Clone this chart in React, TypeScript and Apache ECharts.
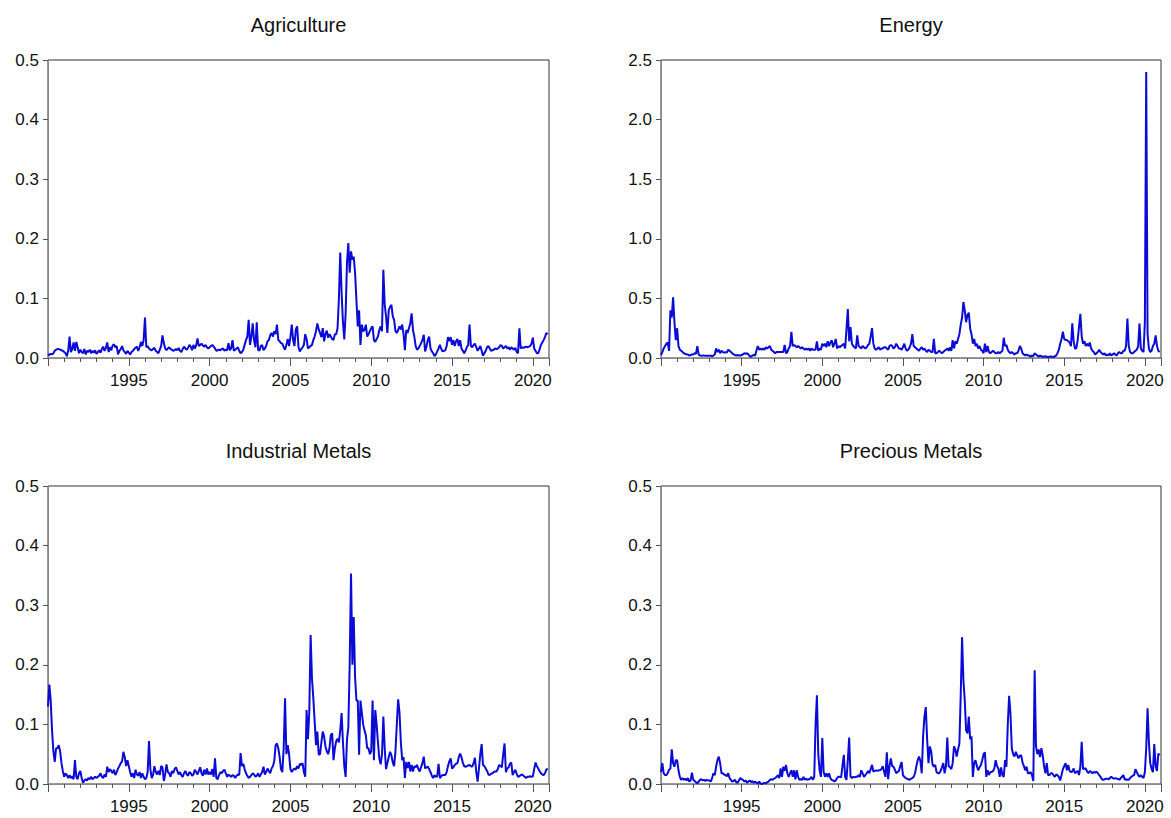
import React, { useEffect, useRef } from "react";
import * as echarts from "echarts";

const START_YEAR = 1990;
const END_YEAR = 2021;

const titles = ["Agriculture", "Energy", "Industrial Metals", "Precious Metals"];

// monthly observations starting 1990M1
const agriculture = [
  0.006, 0.005, 0.007, 0.006, 0.008, 0.012, 0.014, 0.015, 0.015, 0.014, 0.013, 0.012,
  0.010, 0.008, 0.003, 0.012, 0.036, 0.010, 0.015, 0.026, 0.012, 0.027, 0.018, 0.008,
  0.014, 0.010, 0.008, 0.015, 0.006, 0.012, 0.010, 0.014, 0.008, 0.012, 0.009, 0.013,
  0.007, 0.010, 0.013, 0.009, 0.015, 0.019, 0.012, 0.017, 0.026, 0.010, 0.018, 0.013,
  0.021, 0.023, 0.018, 0.020, 0.006, 0.012, 0.015, 0.020, 0.013, 0.010, 0.007, 0.012,
  0.009, 0.006, 0.010, 0.012, 0.015, 0.017, 0.019, 0.012, 0.018, 0.027, 0.020,
  0.030, 0.068, 0.018, 0.020, 0.016, 0.014, 0.013, 0.015, 0.017, 0.012, 0.010, 0.008,
  0.014, 0.020, 0.038, 0.025, 0.016, 0.013, 0.016, 0.018, 0.015, 0.014, 0.012, 0.013,
  0.015, 0.013, 0.017, 0.012, 0.010, 0.015, 0.019, 0.016, 0.014, 0.017, 0.022, 0.019,
  0.013, 0.022, 0.016, 0.021, 0.033, 0.020, 0.022, 0.024, 0.021, 0.019, 0.022, 0.018,
  0.016, 0.018, 0.020, 0.022, 0.019, 0.016, 0.012, 0.013, 0.014, 0.013, 0.015, 0.016,
  0.012, 0.014, 0.013, 0.025, 0.013, 0.016, 0.030, 0.012, 0.014, 0.016, 0.018, 0.012,
  0.008, 0.010, 0.014, 0.022, 0.030, 0.036, 0.064, 0.022, 0.035, 0.058, 0.030, 0.018,
  0.060, 0.014, 0.012, 0.020, 0.022, 0.013, 0.016, 0.020, 0.028, 0.030, 0.038, 0.042,
  0.036, 0.045, 0.040, 0.056, 0.030, 0.028, 0.025, 0.024, 0.018, 0.014, 0.022, 0.032,
  0.020, 0.035, 0.056, 0.030, 0.020, 0.048, 0.053, 0.018, 0.011, 0.015, 0.018,
  0.022, 0.040, 0.032, 0.016, 0.018, 0.020, 0.022, 0.030, 0.036, 0.045, 0.058, 0.048,
  0.042, 0.035, 0.050, 0.028, 0.040, 0.046, 0.034, 0.040, 0.036, 0.032, 0.030, 0.040,
  0.040, 0.050, 0.100, 0.177, 0.110, 0.060, 0.031, 0.075, 0.160, 0.193, 0.143, 0.179,
  0.165, 0.170, 0.143, 0.098, 0.053, 0.080, 0.022, 0.056, 0.045, 0.047, 0.056, 0.036,
  0.040, 0.045, 0.050, 0.053, 0.030, 0.027, 0.032, 0.036, 0.047, 0.053, 0.045, 0.148,
  0.090, 0.070, 0.042, 0.080, 0.086, 0.089, 0.070, 0.064, 0.045, 0.042, 0.047, 0.053,
  0.048, 0.056, 0.040, 0.013, 0.047, 0.042, 0.050, 0.058, 0.075, 0.047, 0.036, 0.020,
  0.014, 0.016, 0.020, 0.025, 0.030, 0.039, 0.011, 0.019, 0.030, 0.036, 0.016, 0.011,
  0.008, 0.003, 0.006, 0.011, 0.016, 0.022, 0.015, 0.011, 0.012, 0.013, 0.020, 0.035,
  0.028, 0.035, 0.022, 0.030, 0.020, 0.028, 0.032, 0.020, 0.030, 0.016, 0.012,
  0.008, 0.012, 0.018, 0.022, 0.056, 0.020, 0.018, 0.022, 0.024, 0.018, 0.012, 0.016,
  0.020, 0.012, 0.004, 0.008, 0.012, 0.018, 0.020, 0.016, 0.012, 0.013, 0.014, 0.016,
  0.015, 0.016, 0.018, 0.022, 0.020, 0.016, 0.018, 0.020, 0.016, 0.018, 0.014, 0.018,
  0.016, 0.014, 0.017, 0.010, 0.008, 0.050, 0.016, 0.018, 0.017, 0.018, 0.019, 0.018,
  0.019, 0.020, 0.024, 0.034, 0.016, 0.012, 0.008, 0.008, 0.014, 0.022, 0.026, 0.030,
  0.035, 0.042, 0.040,
];

const energy = [
  0.025, 0.05, 0.08, 0.10, 0.12, 0.13, 0.06, 0.40, 0.34, 0.51, 0.30, 0.15,
  0.25, 0.10, 0.07, 0.06, 0.05, 0.04, 0.035, 0.03, 0.03, 0.02, 0.025, 0.03,
  0.03, 0.04, 0.035, 0.10, 0.03, 0.02, 0.018, 0.02, 0.02, 0.018, 0.02, 0.018,
  0.018, 0.02, 0.015, 0.02, 0.03, 0.08, 0.05, 0.07, 0.04, 0.06, 0.05, 0.045,
  0.05, 0.045, 0.07, 0.06, 0.05, 0.04, 0.03, 0.025, 0.02, 0.025, 0.02,
  0.02, 0.025, 0.03, 0.04, 0.035, 0.04, 0.03, 0.015, 0.01, 0.02, 0.025, 0.02,
  0.06, 0.10, 0.07, 0.08, 0.07, 0.08, 0.07, 0.09, 0.08, 0.09, 0.10, 0.07,
  0.06, 0.05, 0.04, 0.05, 0.05, 0.05, 0.05, 0.05, 0.05, 0.11, 0.04, 0.05,
  0.08, 0.10, 0.22, 0.10, 0.11, 0.10, 0.09, 0.10, 0.09, 0.08, 0.09, 0.08,
  0.07, 0.08, 0.07, 0.08, 0.06, 0.08, 0.07, 0.07, 0.07, 0.14, 0.06, 0.08,
  0.07, 0.12, 0.10, 0.12, 0.09, 0.14, 0.10, 0.13, 0.15, 0.09, 0.12, 0.16,
  0.08, 0.10, 0.09, 0.10, 0.11, 0.12, 0.08, 0.24, 0.41, 0.14, 0.26, 0.12,
  0.10, 0.09, 0.08, 0.19, 0.10, 0.09, 0.08, 0.10, 0.09, 0.08, 0.09, 0.11,
  0.12, 0.18, 0.25, 0.12, 0.08, 0.07, 0.08, 0.09, 0.07, 0.08, 0.08, 0.09,
  0.09, 0.08, 0.07, 0.10, 0.11, 0.10, 0.08, 0.09, 0.12, 0.10, 0.08,
  0.08, 0.07, 0.09, 0.12, 0.08, 0.06, 0.07, 0.09, 0.12, 0.20, 0.10, 0.09,
  0.08, 0.07, 0.06, 0.08, 0.09, 0.07, 0.08, 0.06, 0.05, 0.07, 0.06, 0.05,
  0.05, 0.16, 0.04, 0.04, 0.05, 0.06, 0.05, 0.04, 0.05, 0.06, 0.07, 0.08,
  0.06, 0.09, 0.06, 0.15, 0.08, 0.14, 0.12, 0.16, 0.20, 0.28, 0.34, 0.47,
  0.40, 0.30, 0.36, 0.38, 0.25, 0.20, 0.12, 0.16, 0.10, 0.12, 0.08, 0.10,
  0.07, 0.06, 0.04, 0.12, 0.05, 0.10, 0.05, 0.04, 0.05, 0.06, 0.05, 0.04,
  0.04, 0.05, 0.04, 0.05, 0.06, 0.17, 0.10, 0.11, 0.07, 0.05, 0.04, 0.05,
  0.04, 0.03, 0.04, 0.04, 0.06, 0.10, 0.08, 0.04, 0.03, 0.02, 0.03, 0.02,
  0.02, 0.01, 0.02, 0.015, 0.04, 0.03, 0.02, 0.01, 0.02, 0.015, 0.01,
  0.01, 0.015, 0.01, 0.008, 0.01, 0.012, 0.01, 0.008, 0.015, 0.02, 0.04, 0.07,
  0.12, 0.16, 0.22, 0.16, 0.15, 0.15, 0.14, 0.13, 0.10, 0.29, 0.14, 0.08,
  0.08, 0.15, 0.26, 0.37, 0.18, 0.12, 0.14, 0.10, 0.12, 0.10, 0.13, 0.08,
  0.06, 0.05, 0.03, 0.04, 0.05, 0.07, 0.05, 0.04, 0.03, 0.04, 0.02, 0.03,
  0.02, 0.04, 0.02, 0.03, 0.04, 0.03, 0.02, 0.04, 0.05, 0.04, 0.04, 0.06,
  0.06, 0.10, 0.33, 0.10, 0.05, 0.04, 0.04, 0.05, 0.06, 0.07, 0.10, 0.29,
  0.08, 0.06, 0.05, 0.30, 2.40, 0.20, 0.08, 0.05, 0.06, 0.10, 0.12, 0.19,
  0.10, 0.06, 0.05,
];

const industrialMetals = [
  0.130, 0.167, 0.140, 0.090, 0.055, 0.037, 0.060, 0.060, 0.065, 0.055, 0.035, 0.022,
  0.012, 0.018, 0.015, 0.010, 0.015, 0.010, 0.013, 0.008, 0.040, 0.012, 0.008, 0.018,
  0.022, 0.010, 0.002, 0.006, 0.008, 0.006, 0.010, 0.008, 0.012, 0.008, 0.010, 0.012,
  0.010, 0.012, 0.014, 0.018, 0.012, 0.010, 0.016, 0.012, 0.029, 0.020, 0.025,
  0.022, 0.018, 0.024, 0.015, 0.020, 0.026, 0.030, 0.035, 0.038, 0.054, 0.045, 0.030,
  0.040, 0.030, 0.020, 0.012, 0.018, 0.010, 0.024, 0.016, 0.014, 0.020, 0.010, 0.018,
  0.012, 0.008, 0.010, 0.020, 0.072, 0.025, 0.010, 0.015, 0.030, 0.020, 0.016, 0.022,
  0.015, 0.030, 0.028, 0.005, 0.016, 0.033, 0.020, 0.018, 0.012, 0.022, 0.018, 0.025,
  0.028, 0.022, 0.016, 0.020, 0.015, 0.012, 0.018, 0.022, 0.016, 0.014, 0.020, 0.018,
  0.014, 0.016, 0.024, 0.020, 0.016, 0.022, 0.028, 0.018, 0.014, 0.024, 0.016, 0.026,
  0.016, 0.020, 0.016, 0.025, 0.012, 0.043, 0.010, 0.008, 0.015, 0.020, 0.018, 0.022,
  0.024, 0.018, 0.012, 0.016, 0.014, 0.012, 0.015, 0.014, 0.010, 0.014, 0.016, 0.015,
  0.052, 0.030, 0.034, 0.025, 0.018, 0.014, 0.010, 0.012, 0.015, 0.018, 0.016, 0.012,
  0.014, 0.018, 0.012, 0.016, 0.020, 0.029, 0.016, 0.020, 0.026, 0.022, 0.018,
  0.026, 0.030, 0.038, 0.065, 0.068, 0.060, 0.045, 0.025, 0.020, 0.060, 0.144, 0.050,
  0.065, 0.050, 0.025, 0.020, 0.024, 0.026, 0.024, 0.030, 0.026, 0.034, 0.032, 0.035,
  0.020, 0.012, 0.124, 0.075, 0.120, 0.250, 0.177, 0.144, 0.105, 0.065, 0.088, 0.049,
  0.050, 0.070, 0.088, 0.080, 0.063, 0.055, 0.050, 0.060, 0.082, 0.085, 0.040, 0.060,
  0.072, 0.076, 0.070, 0.090, 0.119, 0.070, 0.030, 0.012, 0.075, 0.095, 0.200, 0.353,
  0.200, 0.280, 0.180, 0.140, 0.140, 0.049, 0.140, 0.120, 0.100, 0.090, 0.082, 0.060,
  0.060, 0.050, 0.055, 0.140, 0.040, 0.124, 0.100, 0.070, 0.043, 0.033, 0.050, 0.113,
  0.060, 0.025, 0.035, 0.045, 0.054, 0.048, 0.036, 0.030, 0.055, 0.100, 0.142, 0.120,
  0.070, 0.040, 0.045, 0.010, 0.037, 0.027, 0.037, 0.021, 0.032, 0.021, 0.030, 0.028,
  0.032, 0.025, 0.021, 0.028, 0.035, 0.046, 0.026, 0.028, 0.029, 0.025, 0.020, 0.014,
  0.010, 0.015, 0.012, 0.013, 0.034, 0.010, 0.013, 0.015, 0.015, 0.015, 0.020,
  0.030, 0.038, 0.043, 0.026, 0.028, 0.032, 0.034, 0.035, 0.045, 0.051, 0.045, 0.036,
  0.030, 0.029, 0.030, 0.031, 0.032, 0.030, 0.029, 0.035, 0.044, 0.020, 0.004, 0.026,
  0.050, 0.067, 0.032, 0.030, 0.026, 0.022, 0.016, 0.015, 0.017, 0.018, 0.020, 0.021,
  0.021, 0.025, 0.032, 0.030, 0.028, 0.050, 0.068, 0.020, 0.026, 0.028, 0.034, 0.036,
  0.015, 0.020, 0.024, 0.017, 0.012, 0.013, 0.015, 0.016, 0.014, 0.012, 0.010, 0.012,
  0.012, 0.013, 0.012, 0.013, 0.025, 0.036, 0.030, 0.026, 0.022, 0.018, 0.016, 0.015,
  0.018, 0.024, 0.026,
];

const preciousMetals = [
  0.020, 0.035, 0.018, 0.015, 0.015, 0.018, 0.024, 0.026, 0.058, 0.035, 0.029, 0.040,
  0.040, 0.023, 0.012, 0.007, 0.010, 0.007, 0.009, 0.006, 0.010, 0.004, 0.006, 0.019,
  0.007, 0.005, 0.003, 0.001, 0.004, 0.007, 0.008, 0.006, 0.007, 0.005, 0.007, 0.006,
  0.006, 0.004, 0.010, 0.018, 0.015, 0.029, 0.040, 0.046, 0.035, 0.018, 0.018, 0.016,
  0.015, 0.013, 0.018, 0.010, 0.007, 0.004, 0.005, 0.007, 0.003, 0.002, 0.006, 0.010,
  0.008, 0.007, 0.004, 0.006, 0.002, 0.004, 0.006, 0.003, 0.005, 0.002, 0.004,
  0.002, 0.001, 0.004, 0.001, 0.000, 0.001, 0.002, 0.001, 0.003, 0.004, 0.007, 0.008,
  0.007, 0.009, 0.010, 0.012, 0.015, 0.010, 0.026, 0.012, 0.029, 0.022, 0.032, 0.018,
  0.012, 0.018, 0.023, 0.012, 0.023, 0.008, 0.023, 0.012, 0.007, 0.008, 0.007, 0.012,
  0.007, 0.009, 0.007, 0.008, 0.009, 0.012, 0.007, 0.012, 0.100, 0.149, 0.050, 0.023,
  0.012, 0.077, 0.020, 0.012, 0.018, 0.012, 0.018, 0.010, 0.007, 0.006, 0.004, 0.006,
  0.010, 0.012, 0.012, 0.011, 0.030, 0.049, 0.012, 0.007, 0.040, 0.078, 0.012, 0.010,
  0.012, 0.011, 0.012, 0.012, 0.015, 0.012, 0.023, 0.018, 0.012, 0.015, 0.018, 0.022,
  0.018, 0.025, 0.032, 0.021, 0.022, 0.023, 0.022, 0.023, 0.023, 0.025, 0.030, 0.020,
  0.012, 0.053, 0.008, 0.030, 0.043, 0.030, 0.029, 0.024, 0.018, 0.020, 0.022, 0.030,
  0.037, 0.015, 0.012, 0.010, 0.009, 0.008, 0.007, 0.009, 0.010, 0.012, 0.018,
  0.030, 0.040, 0.046, 0.038, 0.018, 0.080, 0.113, 0.129, 0.075, 0.035, 0.063, 0.055,
  0.033, 0.029, 0.032, 0.020, 0.018, 0.018, 0.022, 0.028, 0.035, 0.018, 0.030, 0.078,
  0.030, 0.028, 0.025, 0.035, 0.063, 0.058, 0.046, 0.058, 0.068, 0.150, 0.246, 0.174,
  0.140, 0.090, 0.085, 0.113, 0.075, 0.080, 0.012, 0.035, 0.040, 0.030, 0.023, 0.028,
  0.032, 0.040, 0.050, 0.053, 0.012, 0.023, 0.015, 0.020, 0.020, 0.022, 0.026, 0.040,
  0.030, 0.026, 0.012, 0.028, 0.015, 0.012, 0.040, 0.029, 0.100, 0.148, 0.118, 0.060,
  0.050, 0.046, 0.054, 0.048, 0.043, 0.048, 0.048, 0.036, 0.030, 0.023, 0.029, 0.018,
  0.018, 0.020, 0.015, 0.005, 0.191, 0.063, 0.050, 0.058, 0.045, 0.060, 0.048, 0.030,
  0.018, 0.035, 0.015, 0.015, 0.018, 0.018, 0.015, 0.012, 0.016, 0.015, 0.012, 0.006,
  0.015, 0.025, 0.030, 0.035, 0.023, 0.032, 0.022, 0.020, 0.021, 0.026, 0.018, 0.020,
  0.022, 0.015, 0.029, 0.071, 0.025, 0.026, 0.026, 0.021, 0.018, 0.022, 0.020, 0.018,
  0.020, 0.019, 0.021, 0.018, 0.015, 0.012, 0.008, 0.007, 0.008, 0.009, 0.009,
  0.008, 0.010, 0.012, 0.010, 0.009, 0.010, 0.009, 0.009, 0.007, 0.010, 0.012, 0.015,
  0.007, 0.008, 0.007, 0.007, 0.010, 0.012, 0.014, 0.015, 0.025, 0.020, 0.015, 0.012,
  0.015, 0.012, 0.010, 0.020, 0.060, 0.127, 0.070, 0.035, 0.025, 0.020, 0.067, 0.030,
  0.022, 0.051, 0.048,
];

const seriesValues = [agriculture, energy, industrialMetals, preciousMetals];
const yMaxes = [0.5, 2.5, 0.5, 0.5];
const yIntervals = [0.1, 0.5, 0.1, 0.1];

const FONT = "'Liberation Sans', Arial, Helvetica, sans-serif";

const grids = [
  { left: 48, top: 60, width: 501, height: 298 },
  { left: 661, top: 60, width: 500, height: 298 },
  { left: 48, top: 486, width: 501, height: 298 },
  { left: 661, top: 486, width: 500, height: 298 },
];

function toPoints(values: number[]) {
  return values.map((v, i) => [START_YEAR + i / 12, v]);
}

export default function App() {
  const ref = useRef<HTMLDivElement>(null);

  useEffect(() => {
    if (!ref.current) return;
    const chart = echarts.init(ref.current, undefined, { renderer: "svg" });

    const xAxes: any[] = [];
    const yAxes: any[] = [];
    const series: any[] = [];
    const titleOpts: any[] = [];

    grids.forEach((g, k) => {
      titleOpts.push({
        text: titles[k],
        left: g.left + g.width / 2 - 5,
        top: g.top - 50,
        textAlign: "center",
        textStyle: { fontFamily: FONT, fontSize: 20, fontWeight: "normal", color: "#111" },
      });
      // minor (yearly) ticks
      xAxes.push({
        type: "value",
        gridIndex: k,
        position: "bottom",
        min: START_YEAR,
        max: END_YEAR,
        interval: 1,
        axisLine: { show: true, lineStyle: { color: "#8a8a8a", width: 1 } },
        axisTick: { show: true, length: 4, lineStyle: { color: "#555" } },
        axisLabel: { show: false },
        splitLine: { show: false },
      });
      // major (5-year) ticks with labels
      xAxes.push({
        type: "value",
        gridIndex: k,
        position: "bottom",
        offset: 0,
        min: START_YEAR,
        max: END_YEAR,
        interval: 5,
        axisLine: { show: false },
        axisTick: { show: true, length: 8, lineStyle: { color: "#555" } },
        axisLabel: {
          show: true,
          margin: 14,
          fontFamily: FONT,
          fontSize: 17,
          color: "#111",
          formatter: (v: number) => (v % 5 === 0 && v !== START_YEAR ? String(v) : ""),
        },
        splitLine: { show: false },
      });
      yAxes.push({
        type: "value",
        gridIndex: k,
        position: "left",
        min: 0,
        max: yMaxes[k],
        interval: yIntervals[k],
        axisLine: { show: true, lineStyle: { color: "#8a8a8a", width: 1 } },
        axisTick: { show: true, length: 5, lineStyle: { color: "#555" } },
        axisLabel: {
          margin: 9,
          fontFamily: FONT,
          fontSize: 17,
          color: "#111",
          formatter: (v: number) => v.toFixed(1),
        },
        splitLine: { show: false },
      });
      series.push({
        type: "line",
        xAxisIndex: 2 * k,
        yAxisIndex: k,
        data: toPoints(seriesValues[k]),
        showSymbol: false,
        symbol: "none",
        lineStyle: { color: "#0b0bd6", width: 2 },
        z: 3,
      });
    });

    chart.setOption({
      animation: false,
      backgroundColor: "#ffffff",
      title: titleOpts,
      grid: grids.map((g) => ({
        ...g,
        show: true,
        borderColor: "#333",
        borderWidth: 1,
        backgroundColor: "transparent",
      })),
      xAxis: xAxes,
      yAxis: yAxes,
      series,
    });

    return () => chart.dispose();
  }, []);

  return (
    <div
      ref={ref}
      style={{ position: "fixed", left: 0, top: 0, width: 1171, height: 818, background: "#fff" }}
    />
  );
}
